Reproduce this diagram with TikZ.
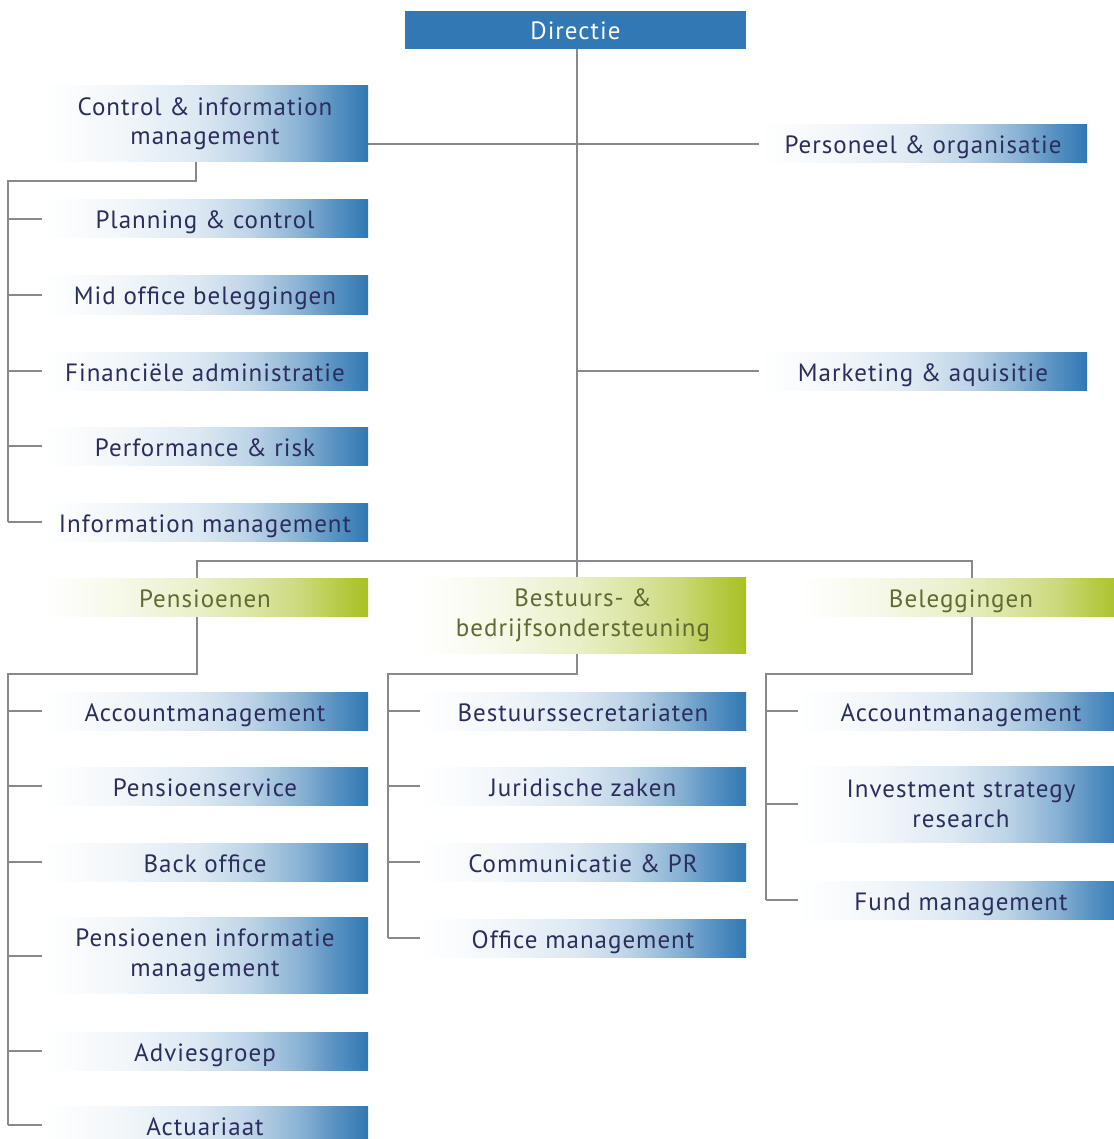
\documentclass[tikz,border=0pt]{standalone}
\usepackage{fontspec}
\usetikzlibrary{backgrounds}
\newfontfamily\orgfont[LetterSpace=4]{PT Sans}
\definecolor{bl}{HTML}{3178B4}
\definecolor{gr}{HTML}{A9C023}
\definecolor{txt}{HTML}{2B2E5C}
\definecolor{gtxt}{HTML}{5F6B32}
\definecolor{lin}{HTML}{87898C}
\pgfdeclarehorizontalshading{bshade}{100bp}{color(0bp)=(white); color(25bp)=(white); color(37bp)=(bl!6); color(49bp)=(bl!17); color(57bp)=(bl!32); color(64.6bp)=(bl!57); color(69.6bp)=(bl!80); color(75bp)=(bl); color(100bp)=(bl)}
\pgfdeclarehorizontalshading{gshade}{100bp}{color(0bp)=(white); color(25bp)=(white); color(37bp)=(gr!10); color(49bp)=(gr!25); color(57bp)=(gr!40); color(64.6bp)=(gr!60); color(69.6bp)=(gr!80); color(75bp)=(gr); color(100bp)=(gr)}
\begin{document}
\begin{tikzpicture}[x=1pt,y=-1pt,
  base/.style={inner sep=0pt, font=\orgfont\fontsize{25}{29.5}\selectfont, align=center},
  one/.style={text height=20pt, text depth=0pt, minimum height=38pt},
  two/.style={minimum height=76pt},
  bbox/.style={base, shading=bshade, text=txt, minimum width=326pt},
  gbox/.style={base, shading=gshade, text=gtxt, minimum width=326pt},
  conn/.style={draw=lin, line width=2pt}]
\useasboundingbox (0,0) rectangle (1113,1139);
% coordinates for connector bends
\coordinate (t) at (577,0);
\coordinate (barL) at (197,561);
\coordinate (barR) at (972,561);
\coordinate (c1) at (196,181);
\coordinate (cv) at (8,181);
\coordinate (p1) at (197,674);
\coordinate (pv) at (8,674);
\coordinate (b1) at (577,674);
\coordinate (bv) at (388,674);
\coordinate (e1) at (972,674);
\coordinate (ev) at (766,674);
% nodes
\node[base, one, fill=bl, text=white, minimum width=341pt] (dir) at (575.5,30) {Directie};
\node[bbox, two] (ctrl) at (205,124) {Control \& information\\management};
\node[bbox, one, minimum width=328pt] (pers) at (923,144) {Personeel \& organisatie};
\node[bbox, one] (plan) at (205,219) {Planning \& control};
\node[bbox, one] (mid) at (205,295) {Mid office beleggingen};
\node[bbox, one] (fin) at (205,371) {Financiële administratie};
\node[bbox, one] (perf) at (205,446) {Performance \& risk};
\node[bbox, one] (info) at (205,522) {Information management};
\node[bbox, one, minimum width=328pt] (mark) at (923,371) {Marketing \& aquisitie};
\node[gbox, one] (pens) at (205,597) {Pensioenen};
\node[gbox, two] (best) at (583,615) {Bestuurs- \&\\bedrijfsondersteuning};
\node[gbox, one] (bel) at (961,597) {Beleggingen};
\node[bbox, one] (acc1) at (205,711) {Accountmanagement};
\node[bbox, one] (pserv) at (205,786) {Pensioenservice};
\node[bbox, one] (back) at (205,862) {Back office};
\node[bbox, two] (pim) at (205,955.5) {Pensioenen informatie\\management};
\node[bbox, one] (adv) at (205,1051) {Adviesgroep};
\node[bbox, one] (act) at (205,1125) {Actuariaat};
\node[bbox, one] (bsec) at (583,711) {Bestuurssecretariaten};
\node[bbox, one] (jur) at (583,786) {Juridische zaken};
\node[bbox, one] (comm) at (583,862) {Communicatie \& PR};
\node[bbox, one] (office) at (583,938) {Office management};
\node[bbox, one] (acc2) at (961,711) {Accountmanagement};
\node[bbox, two] (isr) at (961,804) {Investment strategy\\research};
\node[bbox, one] (fund) at (961,900) {Fund management};
% connectors (behind nodes)
\begin{scope}[on background layer]
\draw[conn] (dir.south -| t) -- (best.north -| t);
\draw[conn] (pers.west -| ctrl.east) -- (pers.west);
\draw[conn] (mark.west -| t) -- (mark.west);
\draw[conn] (pens.north -| barL) -- (barL) -- (barR) -- (bel.north -| barR);
\draw[conn] (ctrl.south -| c1) -- (c1) -- (cv) -- (cv |- info);
\foreach \n in {plan,mid,fin,perf,info} \draw[conn] (cv |- \n) -- ++(38,0);
\draw[conn] (pens.south -| p1) -- (p1) -- (pv) -- (pv |- act);
\foreach \n in {acc1,pserv,back,pim,adv,act} \draw[conn] (pv |- \n) -- ++(38,0);
\draw[conn] (best.south -| b1) -- (b1) -- (bv) -- (bv |- office);
\foreach \n in {bsec,jur,comm,office} \draw[conn] (bv |- \n) -- ++(36,0);
\draw[conn] (bel.south -| e1) -- (e1) -- (ev) -- (ev |- fund);
\foreach \n in {acc2,isr,fund} \draw[conn] (ev |- \n) -- ++(36,0);
\end{scope}
\end{tikzpicture}
\end{document}
